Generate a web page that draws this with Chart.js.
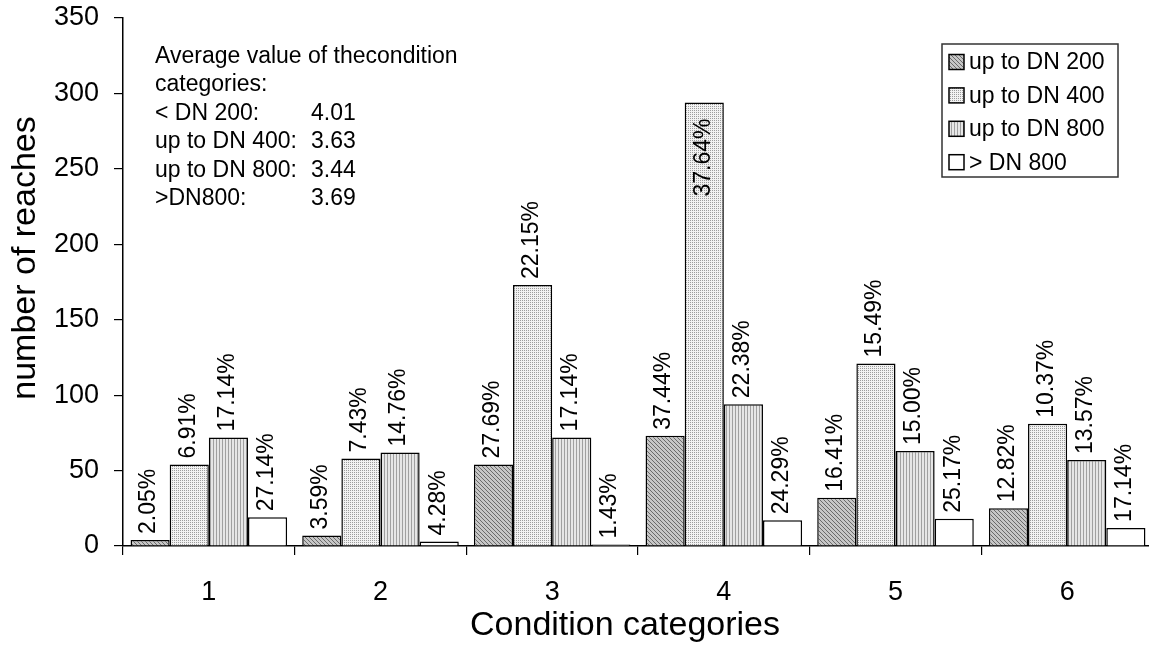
<!DOCTYPE html>
<html><head><meta charset="utf-8">
<script src="https://cdn.jsdelivr.net/npm/chart.js@4/dist/chart.umd.min.js"></script>
<style>html,body{margin:0;padding:0;background:#fff;overflow:hidden}#wrap{width:1149px;height:648px;position:relative;overflow:hidden}</style>
</head><body><div id="wrap"><canvas id="c" width="1153" height="648"></canvas></div>
<script>
// ---- data ----
const categories = ['1','2','3','4','5','6'];
const seriesNames = ['up to DN 200','up to DN 400','up to DN 800','> DN 800'];
const dn200 = [4,7,54,73,32,25];
const dn400 = [54,58,173,294,121,81];
const dn800 = [72,62,72,94,63,57];
const over800 = [19,3,1,17,18,12];
const dn200Pct = ['2.05%','3.59%','27.69%','37.44%','16.41%','12.82%'];
const dn400Pct = ['6.91%','7.43%','22.15%','37.64%','15.49%','10.37%'];
const dn800Pct = ['17.14%','14.76%','17.14%','22.38%','15.00%','13.57%'];
const over800Pct = ['27.14%','4.28%','1.43%','24.29%','25.17%','17.14%'];
const yTicks = [0,50,100,150,200,250,300,350];
const noteLabels = ['Average value of thecondition','categories:','< DN 200:','up to DN 400:','up to DN 800:','>DN800:'];
const noteValues = ['','','4.01','3.63','3.44','3.69'];
const xTitle = 'Condition categories';
const yTitle = 'number of reaches';

const FAM = '"Liberation Sans", Arial, Helvetica, sans-serif';
const canvas = document.getElementById('c');
const ctx = canvas.getContext('2d');

function makePattern(w, h, draw) {
  const c = document.createElement('canvas'); c.width = w; c.height = h;
  const x = c.getContext('2d'); draw(x);
  return ctx.createPattern(c, 'repeat');
}
const patDiag = makePattern(4, 4, x => {
  x.fillStyle = '#c6c6c6'; x.fillRect(0, 0, 4, 4);
  x.fillStyle = '#6a6a6a'; for (let i = 0; i < 4; i++) x.fillRect(i, i, 1, 1);
});
const patDots = makePattern(2, 2, x => {
  x.fillStyle = '#f2f2f2'; x.fillRect(0, 0, 2, 2);
  x.fillStyle = '#9c9c9c'; x.fillRect(0, 0, 1, 1);
});
const patVert = makePattern(3, 1, x => {
  x.fillStyle = '#e6e6e6'; x.fillRect(0, 0, 3, 1);
  x.fillStyle = '#a0a0a0'; x.fillRect(0, 0, 1, 1);
});
const fills = [patDiag, patDots, patVert, '#ffffff'];
const pctLabels = [dn200Pct, dn400Pct, dn800Pct, over800Pct];
const values = [dn200, dn400, dn800, over800];

const labelPlugin = {
  id: 'barLabels',
  afterDatasetsDraw(chart) {
    const c = chart.ctx, area = chart.chartArea;
    c.save();
    c.font = '23px ' + FAM; c.fillStyle = '#000';
    c.textAlign = 'left'; c.textBaseline = 'middle';
    chart.data.datasets.forEach((ds, di) => {
      const meta = chart.getDatasetMeta(di);
      meta.data.forEach((el, i) => {
        const t = pctLabels[di][i];
        const w = c.measureText(t).width;
        let start = el.y - 6;
        if (start - w < area.top + 25) start = el.y + 16 + w;
        c.save(); c.translate(el.x - 1, start); c.rotate(-Math.PI / 2);
        c.fillText(t, 0, 0); c.restore();
      });
    });
    c.restore();
  }
};

const textPlugin = {
  id: 'texts',
  afterDraw(chart) {
    const c = chart.ctx;
    c.save(); c.font = '23px ' + FAM; c.fillStyle = '#000';
    c.textAlign = 'left'; c.textBaseline = 'alphabetic';
    noteLabels.forEach((t, i) => {
      const y = 63 + 28.4 * i;
      c.fillText(t, 155, y);
      if (noteValues[i]) c.fillText(noteValues[i], 311, y);
    });
    c.font = '34px ' + FAM; c.textAlign = 'center'; c.textBaseline = 'middle';
    c.fillText(xTitle, 625, 626);
    c.save(); c.translate(26, 258); c.rotate(-Math.PI / 2);
    c.fillText(yTitle, 0, 0); c.restore();
    c.restore();
  }
};

const legendPlugin = {
  id: 'boxLegend',
  afterDraw(chart) {
    const c = chart.ctx;
    c.save();
    c.fillStyle = '#fff'; c.fillRect(942, 44, 176, 133);
    c.strokeStyle = '#333'; c.lineWidth = 1.5; c.strokeRect(942, 44, 176, 133);
    c.font = '23px ' + FAM; c.textBaseline = 'middle'; c.textAlign = 'left';
    chart.data.datasets.forEach((ds, i) => {
      const cy = 62 + 33.4 * i;
      c.fillStyle = ds.backgroundColor; c.fillRect(949, cy - 7.5, 15, 15);
      c.strokeStyle = '#000'; c.lineWidth = 1.5; c.strokeRect(949, cy - 7.5, 15, 15);
      c.fillStyle = '#000'; c.fillText(ds.label, 969, cy + 1);
    });
    c.restore();
  }
};

new Chart(canvas, {
  type: 'bar',
  data: {
    labels: categories,
    datasets: seriesNames.map((n, i) => ({
      label: n, data: values[i], backgroundColor: fills[i],
      borderColor: '#000', borderWidth: 1.5,
      categoryPercentage: 0.912, barPercentage: 1.0
    }))
  },
  options: {
    responsive: false, animation: false, devicePixelRatio: 1,
    layout: { padding: { top: 18, left: 0, right: 0, bottom: 0 } },
    plugins: { legend: { display: false }, tooltip: { enabled: false } },
    scales: {
      x: {
        grid: { display: true, drawOnChartArea: false, drawTicks: true, tickLength: 9, offset: true, color: '#000', lineWidth: 1.2 },
        border: { display: true, color: '#000', width: 1.5 },
        ticks: { font: { size: 27, family: FAM }, color: '#000', padding: 21 },
        title: { display: false },
        afterFit(s) { s.height = 102; s.paddingLeft = 0; s.paddingRight = 0; }
      },
      y: {
        min: 0, max: 350,
        afterBuildTicks(s) { s.ticks = yTicks.map(v => ({ value: v })); },
        grid: { display: true, drawOnChartArea: false, drawTicks: true, tickLength: 9, color: '#000', lineWidth: 1.2 },
        border: { display: true, color: '#000', width: 1.5 },
        ticks: { font: { size: 27, family: FAM }, color: '#000', padding: 15 },
        title: { display: false },
        afterFit(s) { s.width = 123; s.paddingTop = 0; s.paddingBottom = 0; }
      }
    }
  },
  plugins: [labelPlugin, textPlugin, legendPlugin]
});
</script></body></html>
